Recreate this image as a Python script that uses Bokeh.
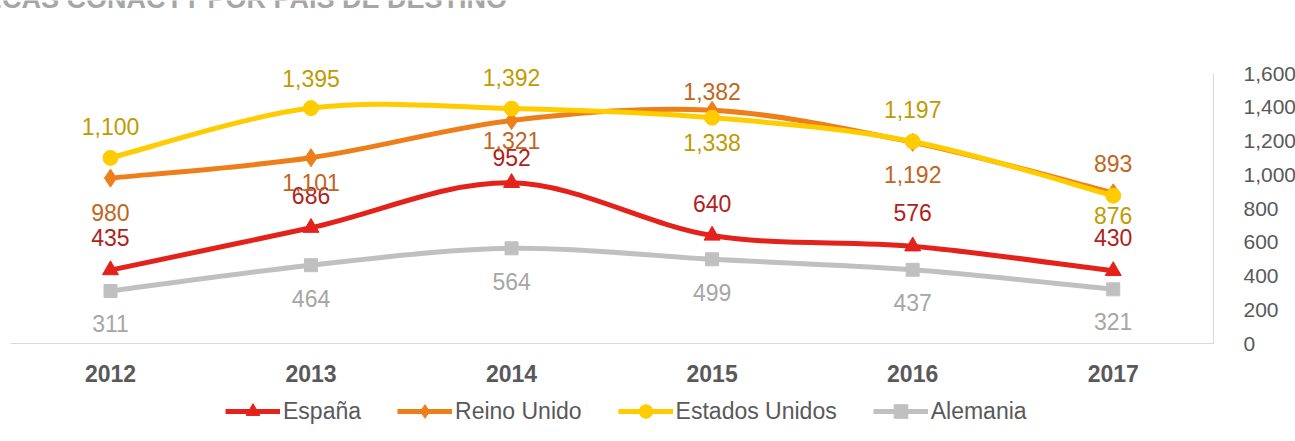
from bokeh.plotting import figure
from bokeh.layouts import column
from bokeh.models import (Range1d, LinearAxis, FixedTicker, Legend, LegendItem, Label,
                          ColumnDataSource, NumeralTickFormatter)
from bokeh.embed import file_html
from bokeh.resources import INLINE
from bokeh.core.properties import value

# ---------------- data ----------------
years = ["2012", "2013", "2014", "2015", "2016", "2017"]
espana = [435, 686, 952, 640, 576, 430]
reino_unido = [980, 1101, 1321, 1382, 1192, 893]
estados_unidos = [1100, 1395, 1392, 1338, 1197, 876]
alemania = [311, 464, 564, 499, 437, 321]
title_text = "BECAS CONACYT POR PAIS DE DESTINO"
y_ticks = [0, 200, 400, 600, 800, 1000, 1200, 1400, 1600]

# label offsets (pixels on screen: negative = up)
off_es = [-33, -32, -25, -32, -34, -33]
off_ru = [34, 25, 20, -19, 32, -29]
off_eu = [-31, -30, -31, 25, -32, 20]
off_al = [32, 33, 33, 33, 33, 32]

FONT = "Liberation Sans"
xs = list(range(len(years)))

FRAME_H = 343
BOTTOM = 46
Y_TOP = 1600 * FRAME_H / 270.0

p = figure(frame_width=1213, frame_height=FRAME_H, output_backend="svg", toolbar_location=None,
           x_range=Range1d(-110 / 200.6, 5.5), y_range=Range1d(0, Y_TOP),
           min_border_left=0, min_border_right=82, min_border_top=0, min_border_bottom=BOTTOM,
           background_fill_color="white", border_fill_color="white")
p.outline_line_color = None
p.grid.visible = False

# x axis
p.xaxis.ticker = FixedTicker(ticks=xs)
p.xaxis.bounds = (-0.5, 5.5)
p.xaxis.major_label_overrides = {i: y for i, y in enumerate(years)}
p.xaxis.major_tick_line_color = None
p.xaxis.minor_tick_line_color = None
p.xaxis.axis_line_color = "#D9D9D9"
p.xaxis.axis_line_width = 1
p.xaxis.major_label_text_font = FONT
p.xaxis.major_label_text_font_style = "bold"
p.xaxis.major_label_text_font_size = "23px"
p.xaxis.major_label_text_color = "#595959"
p.xaxis.major_label_standoff = 15
p.yaxis.visible = False

# right axis
ra = LinearAxis(ticker=FixedTicker(ticks=y_ticks), formatter=NumeralTickFormatter(format="0,0"),
                bounds=(0, 1600))
ra.major_tick_line_color = None
ra.minor_tick_line_color = None
ra.axis_line_color = "#D9D9D9"
ra.major_label_text_font = FONT
ra.major_label_text_font_size = "21px"
ra.major_label_text_color = "#595959"
ra.major_label_standoff = 24
p.add_layout(ra, "right")


def smooth(xv, yv):
    n = len(xv)
    seg = dict(x0=[], y0=[], x1=[], y1=[], cx0=[], cy0=[], cx1=[], cy1=[])
    for i in range(n - 1):
        pm = i - 1 if i > 0 else i
        pp = i + 2 if i + 2 < n else i + 1
        seg["x0"].append(xv[i]); seg["y0"].append(yv[i])
        seg["x1"].append(xv[i + 1]); seg["y1"].append(yv[i + 1])
        seg["cx0"].append(xv[i] + (xv[i + 1] - xv[pm]) / 6)
        seg["cy0"].append(yv[i] + (yv[i + 1] - yv[pm]) / 6)
        seg["cx1"].append(xv[i + 1] - (xv[pp] - xv[i]) / 6)
        seg["cy1"].append(yv[i + 1] - (yv[pp] - yv[i]) / 6)
    return ColumnDataSource(seg)


series = [
    ("Alemania", alemania, "#C0C0C0", "#A6A6A6", "square", 13, off_al),
    ("España", espana, "#E3231B", "#B0221C", "triangle", 16, off_es),
    ("Reino Unido", reino_unido, "#EE7E1A", "#C0661C", "diamond", 18, off_ru),
    ("Estados Unidos", estados_unidos, "#FFCC00", "#BF9B00", "circle", 15, off_eu),
]

# legend figure
LEG_H = 441 - FRAME_H - BOTTOM
GLYPH_H = 34
lf = figure(width=1295, height=LEG_H, output_backend="svg", toolbar_location=None,
            x_range=Range1d(0, 1), y_range=Range1d(0, 1), x_axis_type=None, y_axis_type=None,
            min_border=0, background_fill_color="white", border_fill_color="white")
lf.outline_line_color = None
lf.grid.visible = False

items = {}
for name, vals, col, lcol, marker, size, offs in series:
    src = smooth(xs, vals)
    p.bezier(x0="x0", y0="y0", x1="x1", y1="y1", cx0="cx0", cy0="cy0", cx1="cx1", cy1="cy1",
             source=src, line_color=col, line_width=5, line_cap="round")
    p.scatter(xs, vals, marker=marker, size=size, fill_color=col, line_color=col)
    # legend proxies placed outside the legend figure's visible range
    pl = lf.line(x=[-5, -4], y=[-5, -5], line_color=col, line_width=5)
    ps = lf.scatter(x=[-5], y=[-5], marker=marker, size=size * 0.85, fill_color=col, line_color=col)
    items[name] = LegendItem(label=name, renderers=[pl, ps])

for name, vals, col, lcol, marker, size, offs in series:
    lsrc = ColumnDataSource(dict(x=xs, y=vals, t=[f"{v:,}" for v in vals], off=list(offs)))
    p.text(x="x", y="y", text="t", source=lsrc, y_offset="off", text_align="center",
           text_baseline="middle", text_font=value(FONT), text_font_size="23px",
           text_color=lcol)

legend = Legend(items=[items["España"], items["Reino Unido"], items["Estados Unidos"], items["Alemania"]],
                orientation="horizontal", location=(225, LEG_H - 22 - GLYPH_H / 2),
                label_text_font=FONT, label_text_font_size="23px", label_text_color="#595959",
                glyph_width=55, glyph_height=GLYPH_H, label_standoff=3, spacing=36,
                padding=0, margin=0, border_line_color=None, background_fill_alpha=0)
lf.add_layout(legend)

title = Label(x=-36, y=FRAME_H + 2, x_units="screen", y_units="screen", text=title_text,
              text_font=FONT, text_font_style="bold", text_font_size="27px",
              text_color="#A6A6A6", text_baseline="alphabetic")
p.add_layout(title)

layout = column(p, lf, spacing=0)
open("out.html", "w").write(file_html(layout, INLINE))
